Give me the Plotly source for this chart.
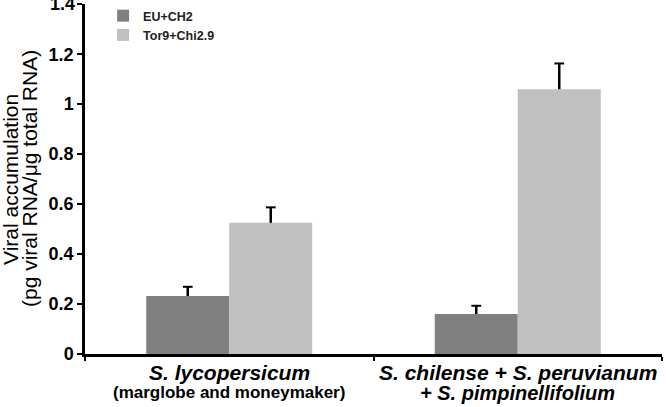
import plotly.graph_objects as go

categories = ["S. lycopersicum", "S. chilense + S. peruvianum + S. pimpinellifolium"]
label_line1 = ["<b><i>S. lycopersicum</i></b>", "<b><i>S. chilense + S. peruvianum</i></b>"]
label_line2 = ["<b>(marglobe and moneymaker)</b>", "<b><i>+ S. pimpinellifolium</i></b>"]
label_line2_size = [17, 20]
series_names = ["EU+CH2", "Tor9+Chi2.9"]
eu_values = [0.232, 0.160]
eu_errors = [0.037, 0.033]
tor_values = [0.525, 1.060]
tor_errors = [0.062, 0.103]
colors = ["#808080", "#c0c0c0"]
y_ticks = [0, 0.2, 0.4, 0.6, 0.8, 1.0, 1.2, 1.4]
y_max = 1.4

FONT = "Liberation Sans, Arial, sans-serif"
bar_w = 0.2877
offsets = [-bar_w / 2, bar_w / 2]
cat_idx = list(range(len(categories)))

fig = go.Figure()
for i, (name, vals, errs) in enumerate(zip(series_names, [eu_values, tor_values], [eu_errors, tor_errors])):
    xs = [c + offsets[i] for c in cat_idx]
    fig.add_trace(go.Bar(
        x=xs, y=vals, width=bar_w, name=name,
        marker=dict(color=colors[i], line=dict(width=0)),
        legendgroup=name,
    ))
    # one-sided (upper) error bars
    fig.add_trace(go.Scatter(
        x=xs, y=[v + e for v, e in zip(vals, errs)], mode="markers",
        marker=dict(symbol="line-ew-open", size=7, color="black", line=dict(width=2, color="black")),
        error_y=dict(type="data", symmetric=False, array=[0] * len(errs), arrayminus=errs,
                     color="black", thickness=2.5, width=0),
        showlegend=False, hoverinfo="skip",
    ))

annotations = []
for i in cat_idx:
    annotations.append(dict(x=i, xref="x", y=-0.0515, yref="paper", text=label_line1[i],
                            showarrow=False, xanchor="center", yanchor="middle",
                            font=dict(size=21, family=FONT, color="black")))
    annotations.append(dict(x=i, xref="x", y=-0.11, yref="paper", text=label_line2[i],
                            showarrow=False, xanchor="center", yanchor="middle",
                            font=dict(size=label_line2_size[i], family=FONT, color="black")))
annotations.append(dict(x=(10 - 85) / 577, xref="paper", y=0.5, yref="paper", text="Viral accumulation",
                        showarrow=False, textangle=-90, xanchor="center", yanchor="middle",
                        font=dict(size=21, family=FONT, color="black")))
annotations.append(dict(x=(29 - 85) / 577, xref="paper", y=0.5, yref="paper", text="(pg viral RNA/μg total RNA)",
                        showarrow=False, textangle=-90, xanchor="center", yanchor="middle",
                        font=dict(size=21, family=FONT, color="black")))
# top tick label, partly cropped at the figure edge as in the original
annotations.append(dict(x=-8 / 577, xref="paper", y=y_max, yref="y", text=f"<b>{y_max:g}</b>",
                        showarrow=False, xanchor="right", yanchor="middle",
                        font=dict(size=18, family=FONT, color="black")))

fig.update_layout(
    width=666, height=407,
    margin=dict(l=85, r=4, t=4, b=53, autoexpand=False),
    paper_bgcolor="white", plot_bgcolor="white",
    barmode="overlay",
    font=dict(family=FONT, color="black"),
    showlegend=True,
    legend=dict(x=0.0314, y=0.9975, xanchor="left", yanchor="top", yref="container",
                font=dict(size=12.5, family=FONT, color="#222", weight="bold"),
                bgcolor="rgba(0,0,0,0)", tracegroupgap=18, traceorder="normal"),
    annotations=annotations,
)
fig.update_yaxes(
    range=[0, 1.401], tickvals=y_ticks, ticktext=[f"{t:g}" for t in y_ticks],
    showgrid=False, zeroline=False, automargin=True,
    showline=True, linecolor="black", linewidth=2.5,
    ticks="outside", ticklen=5, tickwidth=2, tickcolor="black",
    tickfont=dict(size=18, family=FONT, weight="bold"),
)
fig.update_xaxes(
    range=[-0.5, 1.5], tickvals=[-0.5, 0.5, 1.5], showticklabels=False,
    showline=True, linecolor="black", linewidth=2.5, automargin=False,
    ticks="outside", ticklen=4, tickwidth=2, tickcolor="black",
    showgrid=False, zeroline=False,
)
fig.write_html("out.html", config={"displayModeBar": False},
               post_script="document.body.style.margin='0';")
